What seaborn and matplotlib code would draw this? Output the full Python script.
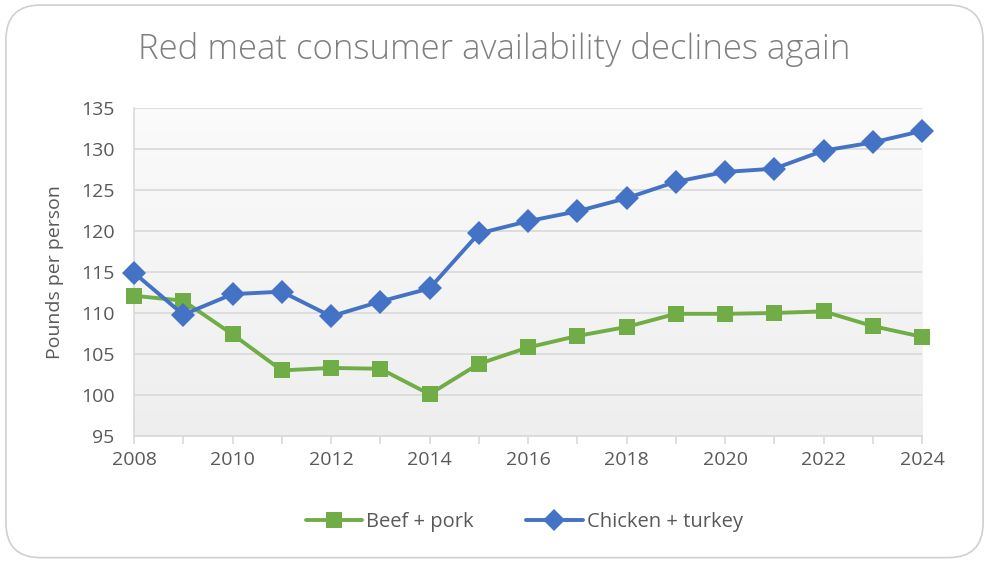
import numpy as np
import pandas as pd
import matplotlib
matplotlib.use("Agg")
import matplotlib.pyplot as plt
from matplotlib.patches import FancyBboxPatch
from matplotlib.ticker import MultipleLocator
import seaborn as sns

years = list(range(2008, 2025))
beef_pork = [112.1, 111.5, 107.4, 103.0, 103.3, 103.2, 100.1, 103.8, 105.8,
             107.2, 108.3, 109.9, 109.9, 110.0, 110.2, 108.4, 107.1]
chicken_turkey = [114.9, 109.8, 112.3, 112.6, 109.6, 111.4, 113.0, 119.7, 121.2,
                  122.4, 124.0, 126.0, 127.2, 127.6, 129.8, 130.8, 132.2]
series_names = ["Beef + pork", "Chicken + turkey"]
y_ticks = [95, 100, 105, 110, 115, 120, 125, 130, 135]
x_ticks = list(range(2008, 2025, 2))

df = pd.DataFrame({
    "Year": years * 2,
    "Pounds": beef_pork + chicken_turkey,
    "Series": [series_names[0]] * len(years) + [series_names[1]] * len(years),
})

sns.set_theme(style="white")
plt.rcParams["font.family"] = ["Open Sans", "DejaVu Sans"]

text_gray = "#595959"
grid_gray = "#d9d9d9"
palette = {series_names[0]: "#70AD47", series_names[1]: "#4472C4"}
markers = {series_names[0]: "s", series_names[1]: "D"}

fig = plt.figure(figsize=(9.89, 5.61), dpi=100)
fig.patch.set_facecolor("white")

# rounded chart border
border = FancyBboxPatch((0.006, 0.006), 0.988, 0.985,
                        boxstyle="round,pad=0,rounding_size=0.035",
                        transform=fig.transFigure, facecolor="white",
                        edgecolor="#d0d0d0", linewidth=1.2, zorder=-10,
                        mutation_aspect=989 / 561)
fig.patches.append(border)

ax = fig.add_axes([0.1355, 0.2228, 0.7968, 0.5847])

# soft vertical gradient in the plot area: lighter at the top
grad = np.linspace(0, 1, 256).reshape(-1, 1)
cmap = matplotlib.colors.LinearSegmentedColormap.from_list("bg", ["#eeeeee", "#fbfbfb"])
ax.imshow(grad, extent=[2008, 2024, 95, 135], aspect="auto", cmap=cmap,
          zorder=0, origin="lower")

sns.lineplot(data=df, x="Year", y="Pounds", hue="Series", style="Series",
             palette=palette, markers=markers, dashes=False,
             linewidth=2.8, markersize=12, markeredgewidth=0,
             ax=ax, zorder=3, legend=False)
for line in ax.get_lines():
    line.set_clip_on(False)

ax.set_xlim(2008, 2024)
ax.set_ylim(95, 135)
ax.set_yticks(y_ticks)
ax.set_xticks(x_ticks)
ax.xaxis.set_minor_locator(MultipleLocator(1))
ax.yaxis.grid(True, color=grid_gray, linewidth=1.2, zorder=1)
ax.set_axisbelow(True)
for side in ["top", "right"]:
    ax.spines[side].set_visible(False)
for side in ["left", "bottom"]:
    ax.spines[side].set_color(grid_gray)
    ax.spines[side].set_linewidth(1.2)
    ax.spines[side].set_zorder(2)

ax.tick_params(axis="x", which="both", direction="out", length=6, width=1.2,
               color=grid_gray, labelsize=14, labelcolor=text_gray, pad=5, bottom=True)
ax.tick_params(axis="y", length=0, labelsize=14, labelcolor=text_gray, pad=14)

ax.set_xlabel("")
ax.set_ylabel("Pounds per person", fontsize=14, color=text_gray, labelpad=12)

fig.text(0.5, 0.912, "Red meat consumer availability declines again",
         ha="center", va="center", fontsize=25, color="#7f7f7f", fontweight="light")

# legend below the plot
handles = [
    plt.Line2D([], [], color=palette[n], marker=markers[n], linewidth=2.8,
               markersize=12 if n == series_names[0] else 11, markeredgewidth=0)
    for n in series_names
]
fig.legend(handles, series_names, loc="center", bbox_to_anchor=(0.53, 0.07),
           ncol=2, frameon=False, fontsize=14.5, labelcolor=text_gray,
           handlelength=2.8, handletextpad=0.2, columnspacing=2.6)

fig.savefig("out.png", dpi=100, facecolor="white")
